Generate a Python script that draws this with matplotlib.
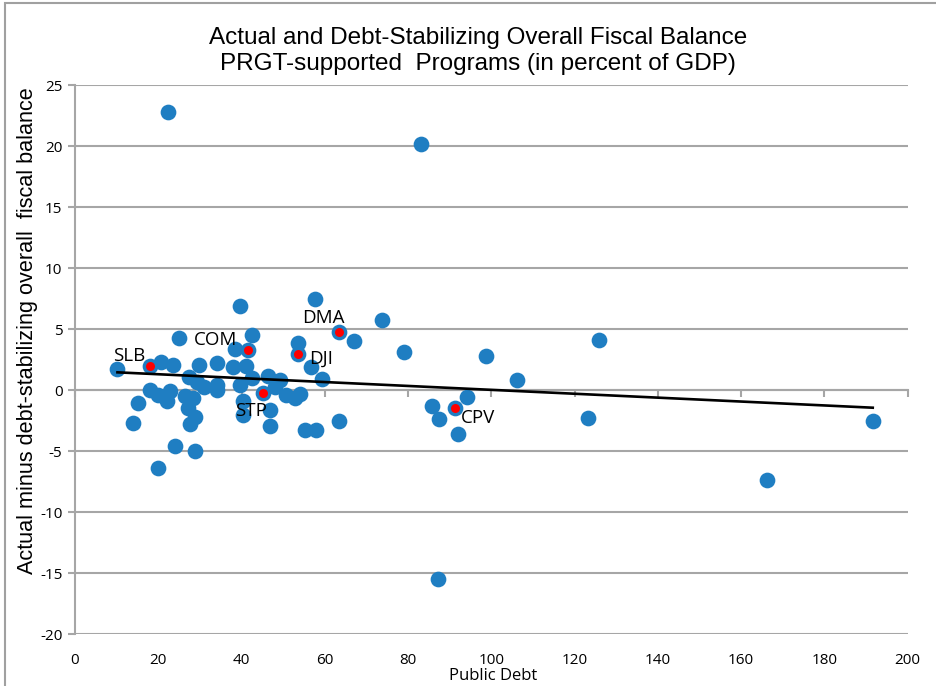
import matplotlib
matplotlib.use('Agg')
import matplotlib.pyplot as plt
from matplotlib.patches import Rectangle

plt.rcParams['axes.unicode_minus'] = False  # 负号用连字符

# 数据：公共债务 (x) 与 实际减去债务稳定财政余额 (y)
debt = [10.2, 14.0, 15.1, 18.0, 19.9, 20.0, 20.7, 22.0, 22.3, 22.8,
        23.5, 24.0, 25.0, 26.4, 27.2, 27.5, 27.6, 28.4, 28.8, 28.8,
        29.2, 29.9, 31.0, 34.0, 34.2, 34.2, 37.9, 38.4, 39.6, 39.6,
        40.3, 40.4, 41.0, 42.4, 42.4, 46.4, 46.8, 46.8, 48.0, 49.2,
        50.8, 52.8, 53.6, 54.0, 55.2, 56.7, 57.6, 58.0, 59.3, 63.5,
        67.0, 73.8, 79.1, 83.0, 85.7, 87.2, 87.5, 92.1, 94.1, 98.7,
        106.2, 123.1, 125.9, 166.1, 191.6]
gap = [1.7, -2.7, -1.05, 0.05, -0.4, -6.4, 2.3, -0.9, 22.8, -0.1,
       2.1, -4.6, 4.3, -0.5, -1.5, 1.1, -2.8, -0.6, -2.2, -5.0,
       0.7, 2.1, 0.3, 0.4, 0.0, 2.2, 1.9, 3.35, 0.4, 6.9,
       -2.0, -0.9, 2.0, 1.0, 4.5, 1.2, -1.6, -2.9, 0.3, 0.85,
       -0.4, -0.6, 3.9, -0.3, -3.3, 1.9, 7.45, -3.3, 0.9, -2.55,
       4.0, 5.75, 3.1, 20.2, -1.3, -15.5, -2.35, -3.6, -0.55, 2.8,
       0.85, -2.3, 4.1, -7.4, -2.5]

# 标注国家
hl_names = ['SLB', 'COM', 'DMA', 'DJI', 'STP', 'CPV']
hl_debt = [17.9, 41.6, 63.3, 53.6, 45.2, 91.3]
hl_gap = [2.0, 3.3, 4.75, 2.95, -0.2, -1.45]
# 标签相对点的偏移 (points)
hl_offset = [(-3, 7), (-8, 7), (-11, 10), (8, -3), (-9, -13), (4, -7)]
hl_ha = ['right', 'right', 'center', 'left', 'center', 'left']

# 趋势线
trend_x = [10.2, 191.6]
trend_slope = -0.016
trend_intercept = 1.63

x_ticks = list(range(0, 201, 20))
y_ticks = list(range(-20, 26, 5))

narrow = ['Liberation Sans', 'DejaVu Sans']
label_font = ['Open Sans', 'DejaVu Sans']

fig = plt.figure(figsize=(9.36, 6.86), dpi=100)
ax = fig.add_axes([0.0801, 0.0758, 0.8897, 0.7996])

grid_c = '#a6a6a6'
ax.set_xlim(0, 200)
ax.set_ylim(-20, 25)
ax.set_yticks(y_ticks)
ax.set_xticks(x_ticks)
ax.yaxis.grid(True, color=grid_c, lw=1.5)
ax.set_axisbelow(True)
for s in ['top', 'right', 'bottom']:
    ax.spines[s].set_visible(False)
ax.spines['left'].set_color(grid_c)
ax.spines['left'].set_linewidth(1.5)
ax.tick_params(axis='y', length=5, width=1.5, color=grid_c, labelsize=11, pad=4)
ax.tick_params(axis='x', length=0, labelsize=11, pad=14)

# x 轴线在 y=0 处
sec = ax.secondary_xaxis(20 / 45)
sec.set_xticks(x_ticks)
sec.tick_params(axis='x', length=5, width=1.5, color=grid_c, labelbottom=False, labeltop=False)
sec.spines['bottom'].set_color(grid_c)
sec.spines['bottom'].set_linewidth(1.5)

for lab in ax.get_xticklabels() + ax.get_yticklabels():
    lab.set_family(label_font)

ax.scatter(debt, gap, s=128, color='#1f7ec2', zorder=3, linewidths=0)
ax.scatter(hl_debt, hl_gap, s=128, color='#1f7ec2', zorder=3, linewidths=0)
ax.scatter(hl_debt, hl_gap, s=42, color='#ff0000', zorder=4, linewidths=0)

ty = [trend_intercept + trend_slope * v for v in trend_x]
ax.plot(trend_x, ty, color='black', lw=1.9, zorder=5)

for name, xv, yv, off, ha in zip(hl_names, hl_debt, hl_gap, hl_offset, hl_ha):
    ax.annotate(name, (xv, yv), xytext=off, textcoords='offset points',
                ha=ha, va='center', fontsize=13.5, family=label_font, zorder=6)

fig.text(0.511, 0.945, 'Actual and Debt-Stabilizing Overall Fiscal Balance',
         ha='center', va='center', fontsize=17.5, family=narrow)
fig.text(0.511, 0.907, 'PRGT-supported  Programs (in percent of GDP)',
         ha='center', va='center', fontsize=17.5, family=narrow)
fig.text(0.029, 0.5175, 'Actual minus debt-stabilizing overall  fiscal balance',
         rotation=90, ha='center', va='center', fontsize=15.6, family=narrow)
fig.text(0.527, 0.014, 'Public Debt', ha='center', va='center',
         fontsize=12, family=label_font)

# 图表外框
fig.patches.append(Rectangle((0.005, -0.05), 1.2, 1.046, transform=fig.transFigure,
                             fill=False, edgecolor='#a0a0a0', lw=1.5))

fig.savefig('out.png', dpi=100)
